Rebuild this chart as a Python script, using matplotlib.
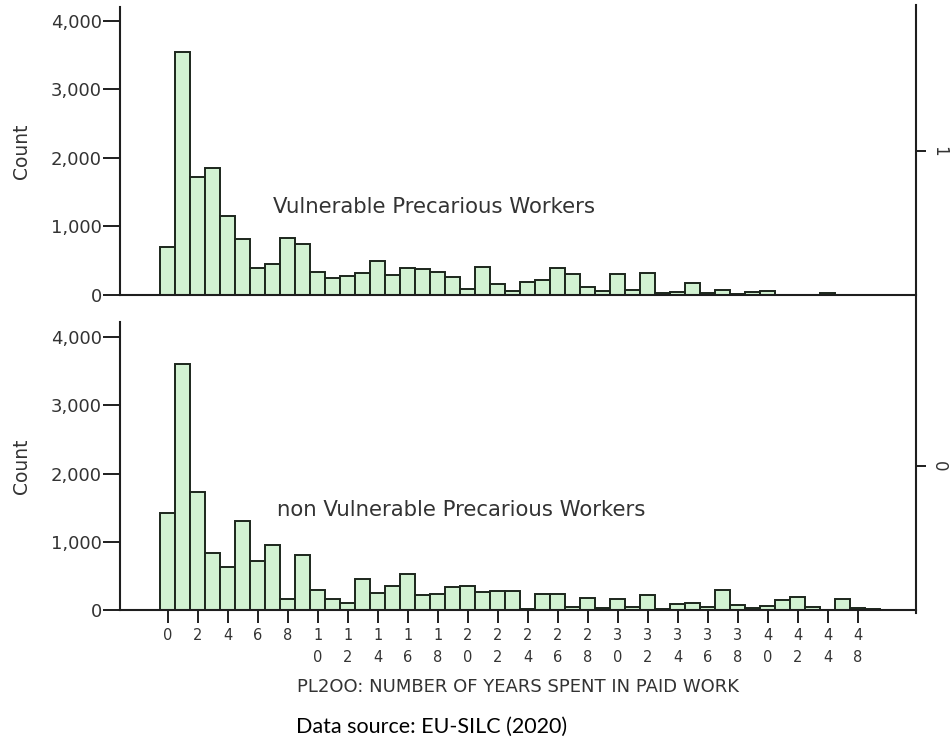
import numpy as np
import matplotlib
matplotlib.use("Agg")
import matplotlib.pyplot as plt
from matplotlib.lines import Line2D

# Categories of PL200 (years spent in paid work) present in the data
years = list(range(45)) + [46, 48, 50]

# Counts per category, vulnerable precarious workers
vulnerable = [705, 3543, 1727, 1858, 1153, 817, 389, 452, 827, 740,
              341, 253, 277, 326, 501, 287, 389, 380, 331, 268,
              83, 414, 160, 63, 185, 219, 389, 307, 122, 63,
              307, 73, 326, 30, 50, 175, 22, 78, 8, 46,
              63, 0, 0, 0, 22, 0, 0, 0]

# Counts per category, non vulnerable precarious workers
non_vulnerable = [1416, 3604, 1734, 840, 635, 1299, 723, 947, 166, 806,
                  288, 156, 98, 449, 244, 356, 527, 220, 230, 342,
                  356, 269, 278, 278, 15, 234, 234, 49, 176, 24,
                  156, 39, 215, 15, 88, 107, 44, 295, 68, 34,
                  60, 146, 190, 39, 0, 156, 24, 20]

panel_titles = ["Vulnerable Precarious Workers", "non Vulnerable Precarious Workers"]
panel_codes = ["1", "0"]
y_ticks = [0, 1000, 2000, 3000, 4000]
x_title = "PL2OO: NUMBER OF YEARS SPENT IN PAID WORK"
source_note = "Data source: EU-SILC (2020)"

plt.rcParams["font.family"] = ["DejaVu Sans"]

W, H = 953, 742
fig = plt.figure(figsize=(W / 100, H / 100), dpi=100)
fig.patch.set_facecolor("white")


def box(x0, y0, x1, y1):
    """Pixel box (top-left origin) to figure fraction rect."""
    return [x0 / W, 1 - y1 / H, (x1 - x0) / W, (y1 - y0) / H]


FILL = "#d2f2d2"
EDGE = "#1c261c"
AXIS = "#1e1e1e"
TEXT = "#333333"

ax_top = fig.add_axes(box(120, 7, 916, 295))
ax_bot = fig.add_axes(box(120, 322, 916, 610))

x = np.arange(len(years))
panels = [(ax_top, vulnerable, 4204), (ax_bot, non_vulnerable, 4220)]

for i, (ax, counts, ymax) in enumerate(panels):
    ax.bar(x, counts, width=1.0, color=FILL, edgecolor=EDGE,
           linewidth=1.4, zorder=2)
    ax.set_xlim(-3.2, 49.87)
    ax.set_ylim(0, ymax)
    for side in ("top", "right"):
        ax.spines[side].set_visible(False)
    for side in ("left", "bottom"):
        ax.spines[side].set_color(AXIS)
        ax.spines[side].set_linewidth(1.5)
        ax.spines[side].set_zorder(3)
    ax.set_yticks(y_ticks)
    ax.set_yticklabels([f"{v:,}" for v in y_ticks])
    ax.tick_params(axis="y", direction="out", length=12, width=1.4,
                   color=AXIS, labelsize=13, labelcolor=TEXT, pad=1)
    ax.text(0.192 if i == 0 else 0.197, 0.3056 if i == 0 else 0.347,
            panel_titles[i], transform=ax.transAxes, ha="left",
            va="center", fontsize=15.3, color=TEXT)
    fig.text(21.5 / W, 1 - (151 if i == 0 else 466) / H, "Count",
             rotation=90, ha="center", va="center", fontsize=13.5,
             color=TEXT)

    # Panel code on the right-hand side
    side_ax = ax.twinx()
    side_ax.set_ylim(0, 1)
    side_ax.set_yticks([0.5])
    side_ax.set_yticklabels([panel_codes[i]], rotation=-90, va="center")
    side_ax.tick_params(axis="y", direction="out", length=7, width=1.4,
                        color=AXIS, labelsize=12, labelcolor=TEXT, pad=3)
    for s in side_ax.spines.values():
        s.set_visible(False)

ax_top.tick_params(axis="x", length=0, labelbottom=False)

tick_idx = x[::2]
ax_bot.set_xticks(tick_idx)
ax_bot.set_xticklabels(["\n".join(str(years[k])) for k in tick_idx],
                       linespacing=1.55)
ax_bot.tick_params(axis="x", direction="out", length=9, width=1.4,
                   color=AXIS, labelsize=10.5, labelcolor=TEXT, pad=4)

# Common right-hand frame line spanning both panels
fig.add_artist(Line2D([916 / W, 916 / W], [1 - 5 / H, 1 - 613 / H],
                      color=AXIS, linewidth=1.5))

fig.text(518 / W, 1 - 687 / H, x_title, ha="center", va="center",
         fontsize=13, color=TEXT)
fig.text(432 / W, 1 - 727 / H, source_note, ha="center", va="center",
         fontsize=15.5, color="black", family=["Lato", "DejaVu Sans"])

fig.savefig("out.png", dpi=100, facecolor="white")
